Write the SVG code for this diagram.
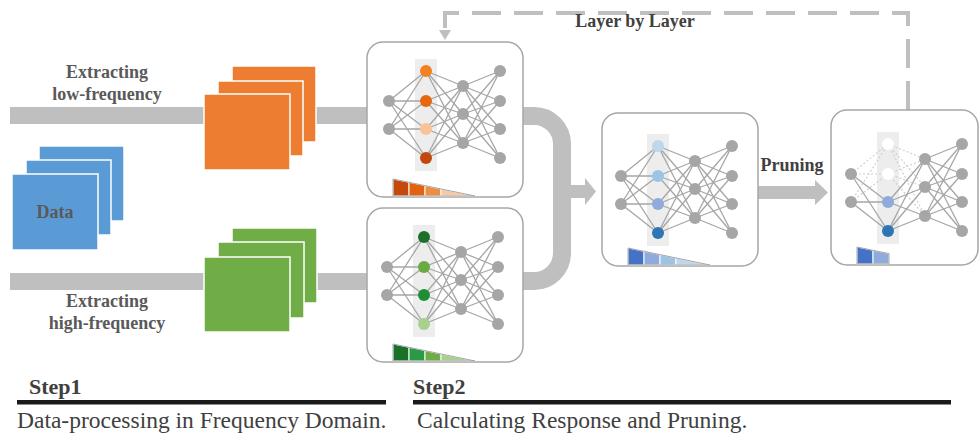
<svg xmlns="http://www.w3.org/2000/svg" xmlns:xlink="http://www.w3.org/1999/xlink" width="979" height="435" viewBox="0 0 979 435">
<style>
.lbl{font-family:"Liberation Serif","Times New Roman",serif;font-weight:bold;font-size:18px;fill:#595959}
.step{font-family:"Liberation Serif","Times New Roman",serif;font-weight:bold;font-size:22px;fill:#404040}
.desc{font-family:"Liberation Serif","Times New Roman",serif;font-size:23.5px;fill:#404040}
.box{fill:#fff;stroke:#A6A6A6;stroke-width:1.5}
.lk{fill:none;stroke:#A6A6A6;stroke-width:1.3}
.lkd{fill:none;stroke:#CFCFCF;stroke-width:1.2;stroke-dasharray:2 2}
.col{fill:#EDEDED}
.gn{fill:#A6A6A6}
.seg{stroke:#fff;stroke-width:1}
.wedge{fill:none;stroke:#A6A6A6;stroke-width:1}
.conn{fill:#BFBFBF}
.sq{stroke:#fff;stroke-width:1.5}
</style>
<defs>
<path id="lin-a" class="lk" d="M21,60L58,30M21,60L58,60M21,88L58,30M21,88L58,60"/>
<path id="lin-b" class="lk" d="M21,60L58,88M21,60L58,117M21,88L58,88M21,88L58,117"/>
<path id="lh-a" d="M58,30L95,45M58,30L95,73M58,30L95,102M58,60L95,45M58,60L95,73M58,60L95,102"/>
<path id="lh-b" class="lk" d="M58,88L95,45M58,88L95,73M58,88L95,102M58,117L95,45M58,117L95,73M58,117L95,102"/>
<path id="lout" class="lk" d="M95,45L132,30M95,45L132,60M95,45L132,88M95,45L132,117M95,73L132,30M95,73L132,60M95,73L132,88M95,73L132,117M95,102L132,30M95,102L132,60M95,102L132,88M95,102L132,117"/>
<g id="gnodes" class="gn">
<circle cx="21" cy="60" r="6"/><circle cx="21" cy="88" r="6"/>
<circle cx="95" cy="45" r="6"/><circle cx="95" cy="73" r="6"/><circle cx="95" cy="102" r="6"/>
<circle cx="132" cy="30" r="6"/><circle cx="132" cy="60" r="6"/><circle cx="132" cy="88" r="6"/><circle cx="132" cy="117" r="6"/>
</g>
<g id="netbase">
<rect class="col" x="47" y="18" width="22" height="112"/>
<use xlink:href="#lin-a"/><use xlink:href="#lin-b"/>
<use xlink:href="#lh-a" class="lk"/><use xlink:href="#lh-b"/>
<use xlink:href="#lout"/>
<use xlink:href="#gnodes"/>
</g>
<polygon id="s1" points="0,0 0,-17 16,-13.7 16,0"/>
<polygon id="s2" points="16,0 16,-13.7 32,-10.4 32,0"/>
<polygon id="s3" points="32,0 32,-10.4 48,-7 48,0"/>
<polygon id="s4" points="48,0 48,-7 82,0"/>
</defs>

<g id="connectors">
<rect class="conn" x="10" y="107" width="194" height="17"/>
<rect class="conn" x="300" y="107" width="67" height="17"/>
<rect class="conn" x="10" y="273" width="194" height="17"/>
<rect class="conn" x="300" y="273" width="67" height="17"/>
<path d="M523,116H534A28,28 0 0 1 562,144V253A28,28 0 0 1 534,281H523" fill="none" stroke="#BFBFBF" stroke-width="18"/>
<polygon class="conn" points="570,185 585,185 585,178 596,191.5 585,205 585,198 570,198"/>
<polygon class="conn" points="757,186 815,186 815,180 828,192.5 815,205 815,199 757,199"/>
<path d="M908,110V13H445V30" fill="none" stroke="#BFBFBF" stroke-width="4" stroke-dasharray="29 13"/>
<polygon class="conn" points="439,30 451,30 445,40"/>
</g>

<g id="data">
<rect class="sq" x="39" y="146" width="85" height="75" fill="#5B9BD5"/>
<rect class="sq" x="26" y="160" width="85" height="75" fill="#5B9BD5"/>
<rect class="sq" x="12" y="174" width="86" height="76" fill="#5B9BD5"/>
<text class="lbl" x="55" y="218" text-anchor="middle">Data</text>
</g>

<g id="low-freq">
<rect class="sq" x="232" y="66" width="84" height="76" fill="#ED7D31"/>
<rect class="sq" x="218" y="81" width="85" height="75" fill="#ED7D31"/>
<rect class="sq" x="204" y="94" width="86" height="76" fill="#ED7D31"/>
<text class="lbl" x="107" y="78" text-anchor="middle">Extracting</text>
<text class="lbl" x="107" y="100" text-anchor="middle">low-frequency</text>
</g>

<g id="high-freq">
<rect class="sq" x="232" y="228" width="85" height="75" fill="#70AD47"/>
<rect class="sq" x="218" y="242" width="86" height="76" fill="#70AD47"/>
<rect class="sq" x="204" y="257" width="86" height="75" fill="#70AD47"/>
<text class="lbl" x="107" y="307" text-anchor="middle">Extracting</text>
<text class="lbl" x="107" y="329" text-anchor="middle">high-frequency</text>
</g>

<g id="net-low">
<rect class="box" x="367" y="42" width="156" height="155" rx="16"/>
<g transform="translate(368,41)">
<use xlink:href="#netbase"/>
<circle cx="58" cy="30" r="6" fill="#F4801F"/><circle cx="58" cy="60" r="6" fill="#E6670E"/>
<circle cx="58" cy="88" r="6" fill="#F9C39A"/><circle cx="58" cy="117" r="6" fill="#C1470D"/>
</g>
<g transform="translate(393,196)">
<use xlink:href="#s1" class="seg" fill="#C4490B"/><use xlink:href="#s2" class="seg" fill="#E2620F"/>
<use xlink:href="#s3" class="seg" fill="#F08C3E"/><use xlink:href="#s4" class="seg" fill="#F9C9A3"/>
<polygon class="wedge" points="0,0 0,-17 82,0"/>
</g>
</g>

<g id="net-high">
<rect class="box" x="367" y="208" width="156" height="154" rx="16"/>
<g transform="translate(366,207)">
<use xlink:href="#netbase"/>
<circle cx="58" cy="30" r="6" fill="#1D6F2B"/><circle cx="58" cy="60" r="6" fill="#6AAA42"/>
<circle cx="58" cy="88" r="6" fill="#1E8E36"/><circle cx="58" cy="117" r="6" fill="#A9D18E"/>
</g>
<g transform="translate(393,361)">
<use xlink:href="#s1" class="seg" fill="#197027"/><use xlink:href="#s2" class="seg" fill="#2A9B45"/>
<use xlink:href="#s3" class="seg" fill="#6CAD46"/><use xlink:href="#s4" class="seg" fill="#A9D18E"/>
<polygon class="wedge" points="0,0 0,-17 82,0"/>
</g>
</g>

<g id="net-merged">
<rect class="box" x="602" y="113" width="156" height="153" rx="16"/>
<g transform="translate(600,116)">
<use xlink:href="#netbase"/>
<circle cx="58" cy="30" r="6" fill="#BDD7EE"/><circle cx="58" cy="60" r="6" fill="#9DC3E6"/>
<circle cx="58" cy="88" r="6" fill="#8FAADC"/><circle cx="58" cy="117" r="6" fill="#2E75B6"/>
</g>
<g transform="translate(628,265)">
<use xlink:href="#s1" class="seg" fill="#4472C4"/><use xlink:href="#s2" class="seg" fill="#8FAADC"/>
<use xlink:href="#s3" class="seg" fill="#9DC3E6"/><use xlink:href="#s4" class="seg" fill="#BDD7EE"/>
<polygon class="wedge" points="0,0 0,-17 82,0"/>
</g>
</g>

<g id="net-pruned">
<rect class="box" x="831" y="110" width="147" height="155" rx="16"/>
<g transform="translate(830,114)">
<rect class="col" x="47" y="18" width="22" height="112"/>
<path class="lkd" d="M21,60L58,30M21,60L58,60M21,88L58,30M21,88L58,60"/>
<use xlink:href="#lh-a" class="lkd"/>
<use xlink:href="#lin-b"/><use xlink:href="#lh-b"/><use xlink:href="#lout"/>
<use xlink:href="#gnodes"/>
<circle cx="58" cy="30" r="6" fill="#fff"/><circle cx="58" cy="60" r="6" fill="#fff"/>
<circle cx="58" cy="88" r="6" fill="#8FAADC"/><circle cx="58" cy="117" r="6" fill="#2E75B6"/>
</g>
<g transform="translate(857,264)">
<use xlink:href="#s1" class="seg" fill="#4472C4"/><use xlink:href="#s2" class="seg" fill="#8FAADC"/>
<polygon class="wedge" points="0,0 0,-17 32,-10.4 32,0"/>
</g>
</g>

<g id="labels">
<text class="lbl" x="635" y="27" text-anchor="middle" fill="#404040" style="fill:#404040">Layer by Layer</text>
<text class="lbl" x="792" y="171" text-anchor="middle" style="fill:#404040">Pruning</text>
</g>

<g id="step1">
<text class="step" x="29" y="394">Step1</text>
<rect x="17" y="400" width="369" height="4.5" fill="#1A1A1A"/>
<text class="desc" x="17" y="428">Data-processing in Frequency Domain.</text>
</g>
<g id="step2">
<text class="step" x="413" y="394">Step2</text>
<rect x="413" y="400" width="538" height="4.5" fill="#1A1A1A"/>
<text class="desc" x="417" y="428">Calculating Response and Pruning.</text>
</g>
</svg>
